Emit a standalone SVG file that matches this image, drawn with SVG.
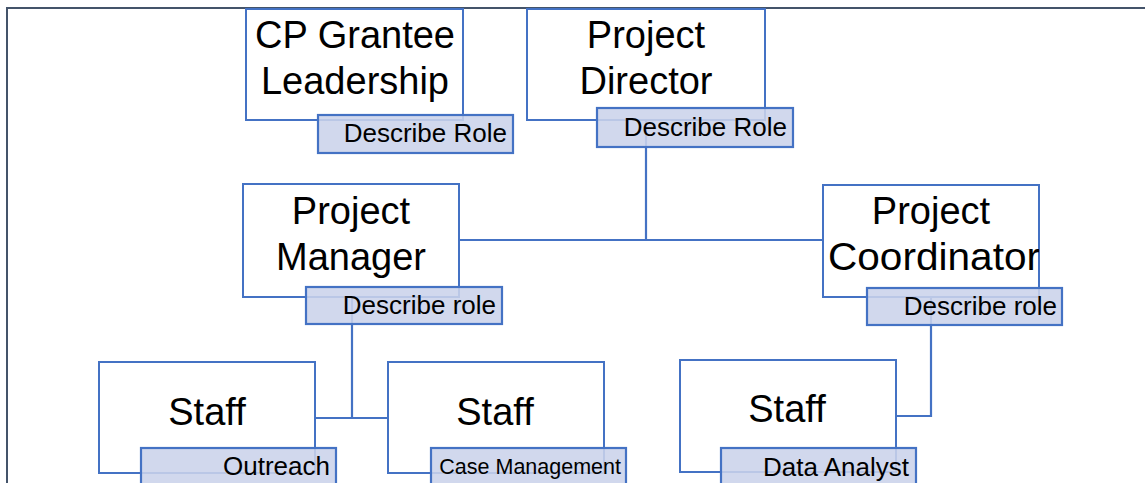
<svg xmlns="http://www.w3.org/2000/svg" width="1145" height="483" viewBox="0 0 1145 483">
<style>
.box{fill:#ffffff;stroke:#4472C4;stroke-width:2}
.lbl{fill:#CBD3EA;fill-opacity:0.88;stroke:#4472C4;stroke-width:2.2}
.t{font-family:"Liberation Sans",Arial,sans-serif;font-size:38px;fill:#000;text-anchor:middle}
.l{font-family:"Liberation Sans",Arial,sans-serif;font-size:26px;fill:#000;text-anchor:end}
.con{fill:none;stroke:#4472C4;stroke-width:2.2}
</style>
<defs>
<clipPath id="clipCoord"><rect x="823" y="185" width="216" height="112"/></clipPath>
</defs>
<path d="M7,483 V8 H1145" fill="none" stroke="#44546A" stroke-width="2"/>
<g id="connectors">
<path class="con" d="M646,120 V240"/>
<path class="con" d="M459,240 H823"/>
<path class="con" d="M352,297 V418"/>
<path class="con" d="M315,418 H388"/>
<path class="con" d="M931,297 V416 H896"/>
</g>
<g id="cp-grantee">
<rect class="box" x="246" y="9" width="217" height="111"/>
<rect class="lbl" x="318" y="115" width="195" height="38"/>
<text class="t" x="355" y="48">CP Grantee</text>
<text class="t" x="355" y="94">Leadership</text>
<text class="l" x="507" y="142">Describe Role</text>
</g>
<g id="project-director">
<rect class="box" x="527" y="9" width="238" height="111"/>
<rect class="lbl" x="597" y="108" width="196" height="39"/>
<text class="t" x="646" y="48">Project</text>
<text class="t" x="646" y="94">Director</text>
<text class="l" x="787" y="136">Describe Role</text>
</g>
<g id="project-manager">
<rect class="box" x="243" y="184" width="216" height="113"/>
<rect class="lbl" x="306" y="287" width="196" height="37"/>
<text class="t" x="351" y="224">Project</text>
<text class="t" x="351" y="270">Manager</text>
<text class="l" x="496" y="314">Describe role</text>
</g>
<g id="project-coordinator">
<rect class="box" x="823" y="185" width="216" height="112"/>
<rect class="lbl" x="867" y="288" width="195" height="37"/>
<text class="t" x="931" y="224">Project</text>
<text class="t" x="934" y="270" clip-path="url(#clipCoord)" textLength="212" lengthAdjust="spacingAndGlyphs">Coordinator</text>
<text class="l" x="1057" y="315">Describe role</text>
</g>
<g id="staff-outreach">
<rect class="box" x="99" y="362" width="216" height="111"/>
<rect class="lbl" x="141" y="448" width="195" height="40"/>
<text class="t" x="207" y="425">Staff</text>
<text class="l" x="330" y="475">Outreach</text>
</g>
<g id="staff-case">
<rect class="box" x="388" y="362" width="216" height="111"/>
<rect class="lbl" x="431" y="448" width="195" height="40"/>
<text class="t" x="495" y="425">Staff</text>
<text class="l" x="621" y="474" style="font-size:21.5px">Case Management</text>
</g>
<g id="staff-data">
<rect class="box" x="680" y="360" width="216" height="112"/>
<rect class="lbl" x="721" y="448" width="195" height="40"/>
<text class="t" x="787" y="422">Staff</text>
<text class="l" x="909" y="476">Data Analyst</text>
</g>
</svg>
